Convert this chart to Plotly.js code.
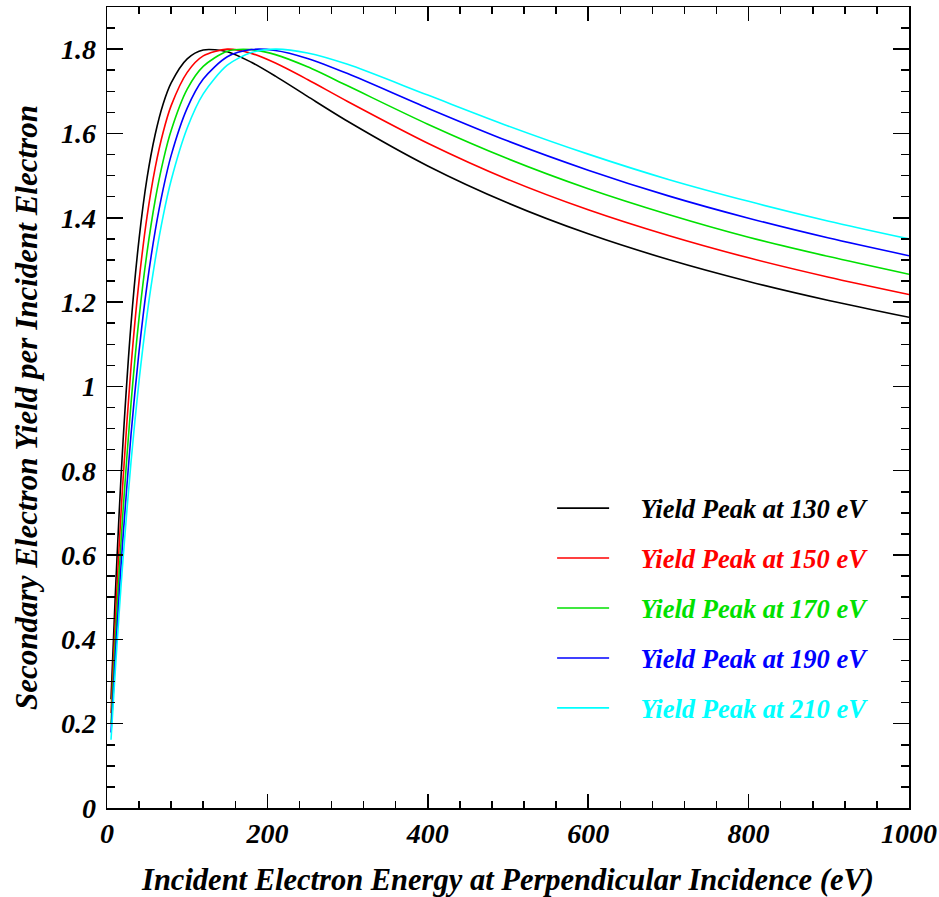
<!DOCTYPE html>
<html>
<head>
<meta charset="utf-8">
<script src="https://cdn.plot.ly/plotly-3.0.1.min.js"></script>
<style>html,body{margin:0;padding:0;background:#fff;}#chart{width:939px;height:897px;}</style>
</head>
<body>
<div id="chart"></div>
<script>
// Incident electron energy (eV)
const energy = [5, 10, 15, 20, 30, 40, 50, 60, 70, 80, 100, 120, 150, 180, 210, 250, 300, 400, 500, 600, 700, 800, 900, 1000];
// Secondary electron yield per incident electron
const yield130 = [0.258, 0.490, 0.694, 0.870, 1.149, 1.350, 1.495, 1.597, 1.670, 1.720, 1.777, 1.798, 1.794, 1.769, 1.736, 1.688, 1.629, 1.523, 1.435, 1.362, 1.301, 1.249, 1.204, 1.164];
const yield150 = [0.225, 0.431, 0.616, 0.779, 1.048, 1.251, 1.404, 1.518, 1.603, 1.666, 1.745, 1.784, 1.800, 1.790, 1.767, 1.728, 1.676, 1.577, 1.491, 1.419, 1.358, 1.305, 1.259, 1.218];
const yield170 = [0.199, 0.384, 0.553, 0.705, 0.961, 1.163, 1.319, 1.441, 1.535, 1.607, 1.705, 1.759, 1.795, 1.799, 1.787, 1.758, 1.713, 1.622, 1.540, 1.469, 1.408, 1.354, 1.308, 1.266];
const yield190 = [0.179, 0.347, 0.502, 0.643, 0.887, 1.084, 1.242, 1.368, 1.468, 1.548, 1.660, 1.729, 1.782, 1.799, 1.797, 1.778, 1.742, 1.660, 1.582, 1.513, 1.452, 1.399, 1.352, 1.310];
const yield210 = [0.162, 0.316, 0.459, 0.591, 0.822, 1.014, 1.171, 1.299, 1.404, 1.489, 1.613, 1.694, 1.762, 1.792, 1.800, 1.791, 1.764, 1.691, 1.618, 1.551, 1.491, 1.439, 1.392, 1.350];
const seriesNames = ["Yield Peak at 130 eV", "Yield Peak at 150 eV", "Yield Peak at 170 eV", "Yield Peak at 190 eV", "Yield Peak at 210 eV"];
const seriesColors = ["#000000", "#ff0000", "#00e000", "#0000ff", "#00ffff"];
const seriesValues = [yield130, yield150, yield170, yield190, yield210];

const serif = "'Liberation Serif', 'Times New Roman', serif";
const gap = "\u00A0\u00A0\u00A0\u00A0";

const traces = seriesValues.map((vals, i) => ({
  x: energy,
  y: vals,
  type: "scatter",
  mode: "lines",
  line: {color: seriesColors[i], width: 1.6, shape: "spline", smoothing: 0.8},
  name: '<span style="color:' + seriesColors[i] + '">' + gap + seriesNames[i] + '</span>',
  legendgroup: "g" + i
}));

const axisCommon = {
  showline: true, linecolor: "#000", linewidth: 1.5, mirror: "allticks",
  ticks: "inside", tickcolor: "#000", tickwidth: 1.5,
  showgrid: false, zeroline: false,
  tickfont: {family: serif, size: 28, color: "#000", weight: "bold", style: "italic"}
};

const layout = {
  width: 939, height: 897,
  paper_bgcolor: "#fff", plot_bgcolor: "#fff",
  margin: {l: 107, r: 30, t: 7, b: 89},
  showlegend: true,
  legend: {
    x: 0.555, y: 0.404, xanchor: "left", yanchor: "top",
    bgcolor: "rgba(0,0,0,0)", borderwidth: 0,
    font: {family: serif, size: 26.5, color: "#000", weight: "bold", style: "italic"},
    tracegroupgap: 12.5, traceorder: "grouped", itemwidth: 52
  },
  xaxis: Object.assign({}, axisCommon, {
    range: [0, 1000], dtick: 200, tick0: 0, ticklen: 14,
    minor: {dtick: 40, ticklen: 7, ticks: "inside", tickcolor: "#000", tickwidth: 1.5},
    title: {text: "Incident Electron Energy at Perpendicular Incidence (eV)", standoff: 22,
      font: {family: serif, size: 30.5, color: "#000", weight: "bold", style: "italic"}}
  }),
  yaxis: Object.assign({}, axisCommon, {
    range: [0, 1.9], dtick: 0.2, tick0: 0, ticklen: 16, ticklabelstandoff: 4,
    minor: {dtick: 0.05, ticklen: 8, ticks: "inside", tickcolor: "#000", tickwidth: 1.5},
    title: {text: "Secondary Electron Yield per Incident Electron", standoff: 14,
      font: {family: serif, size: 31, color: "#000", weight: "bold", style: "italic"}}
  })
};

Plotly.newPlot("chart", traces, layout, {displayModeBar: false, staticPlot: true});
</script>
</body>
</html>
